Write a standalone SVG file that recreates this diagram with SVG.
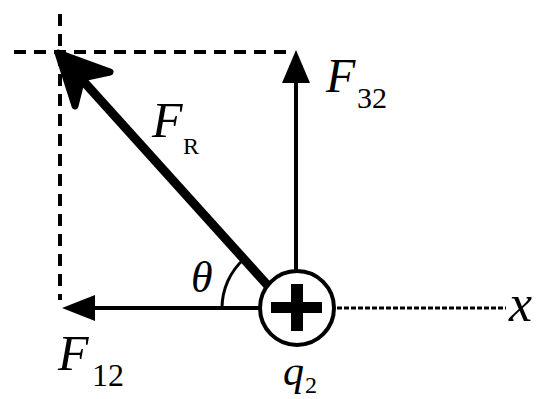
<svg xmlns="http://www.w3.org/2000/svg" width="538" height="399" viewBox="0 0 538 399">
<style>
.dash{stroke:#000;stroke-width:4;stroke-dasharray:12 8;fill:none}
.dot{stroke:#000;stroke-width:3;stroke-dasharray:5 2;fill:none}
.ln{stroke:#000;fill:none}
.sub{font-family:'Liberation Serif','Times New Roman',serif;fill:#000}
.lt{font-family:'Liberation Serif','Times New Roman',serif;font-style:italic;fill:#000}
</style>
<rect width="538" height="399" fill="#fff"/>
<g id="connectors">
  <line class="dash" x1="14" y1="52" x2="288" y2="52"/>
  <line class="dash" x1="60" y1="14" x2="60" y2="300"/>
  <line class="dot" x1="337" y1="308" x2="506" y2="308"/>
  <line class="ln" stroke-width="9" x1="76" y1="73" x2="270" y2="288"/>
  <polygon points="58,53 110,72 82,78 75,106" fill="#000" stroke="#000" stroke-width="7" stroke-linejoin="round"/>
  <line class="ln" stroke-width="4" x1="296" y1="272" x2="296" y2="78"/>
  <polygon points="296,50 310,83 282,83" fill="#000"/>
  <line class="ln" stroke-width="4" x1="259" y1="308" x2="90" y2="308"/>
  <polygon points="62,308 95,295 95,321" fill="#000"/>
  <path class="ln" stroke-width="3" d="M222,308 A66,66 0 0 1 244,259"/>
</g>
<g id="q2">
  <circle cx="297" cy="308" r="37" fill="#fff" stroke="#000" stroke-width="4"/>
  <rect x="271" y="302" width="51" height="11" fill="#000"/>
  <rect x="291" y="284" width="12" height="47" fill="#000"/>
  <text class="lt" x="283" y="385" font-size="42">q</text>
  <text class="sub" x="305" y="393" font-size="24">2</text>
</g>
<g id="labels">
  <text class="lt" x="326" y="92" font-size="48">F</text>
  <text class="sub" x="357" y="108" font-size="30">32</text>
  <text class="lt" x="152" y="137" font-size="50">F</text>
  <text class="sub" x="183" y="154" font-size="24">R</text>
  <text class="lt" x="58" y="370" font-size="50">F</text>
  <text class="sub" x="92" y="386" font-size="32">12</text>
  <text class="lt" x="191" y="292" font-size="44">θ</text>
  <text class="lt" x="509" y="321" font-size="52">x</text>
</g>
</svg>
